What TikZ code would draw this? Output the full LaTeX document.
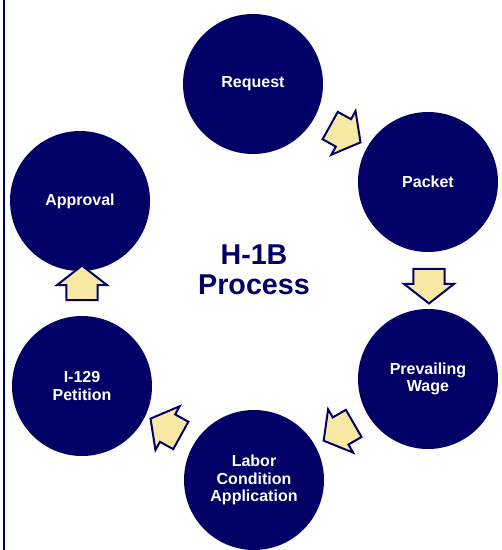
\documentclass[tikz,border=0pt]{standalone}
\usepackage{fontspec}
\setmainfont{Liberation Sans}
\usepackage{xcolor}
\usetikzlibrary{shapes.arrows}

\definecolor{navy}{HTML}{000066}
\definecolor{straw}{HTML}{F7E8A4}

\begin{document}
\begin{tikzpicture}[
    x=0.75pt,
    y=-0.75pt,
    font=\bfseries,
    stage/.style={
        circle,
        fill=navy,
        text=white,
        minimum size=105pt,
        inner sep=0pt,
        align=center,
        font=\fontsize{12}{13}\selectfont\bfseries
    },
    flow/.style={
        single arrow,
        draw=navy,
        fill=straw,
        line width=1.5pt,
        minimum height=26pt,
        minimum width=36pt,
        single arrow head extend=7pt,
        single arrow tip angle=104,
        inner xsep=0pt,
        inner ysep=11pt
    }
]

\useasboundingbox (0,0) rectangle (502,550);

% Left rule
\draw[
    navy,
    line width=1.6pt
] (4,0) -- (4,550);

% Process stages
\node[stage] (request) at (253,84) {Request};
\node[stage] (packet) at (428,182) {Packet};
\node[stage] (wage) at (428,379) {Prevailing\\Wage};
\node[stage] (lca) at (254,480) {Labor\\Condition\\Application};
\node[stage] (petition) at (82,386) {I-129\\Petition};
\node[stage] (approval) at (80,201) {Approval};

% Title in the middle
\node[
    text=navy,
    align=center,
    font=\fontsize{21.5}{22.5}\selectfont\bfseries
] (title) at (254,270) {H-1B\\Process};

% Arrows between the stages
\node[flow, rotate=-29] (a1) at (340,131) {};
\node[flow, rotate=-90] (a2) at (429,280) {};
\node[flow, rotate=-150] (a3) at (344,429) {};
\node[flow, rotate=151] (a4) at (171,430) {};
\node[flow, rotate=90] (a5) at (82,289) {};

\end{tikzpicture}
\end{document}
